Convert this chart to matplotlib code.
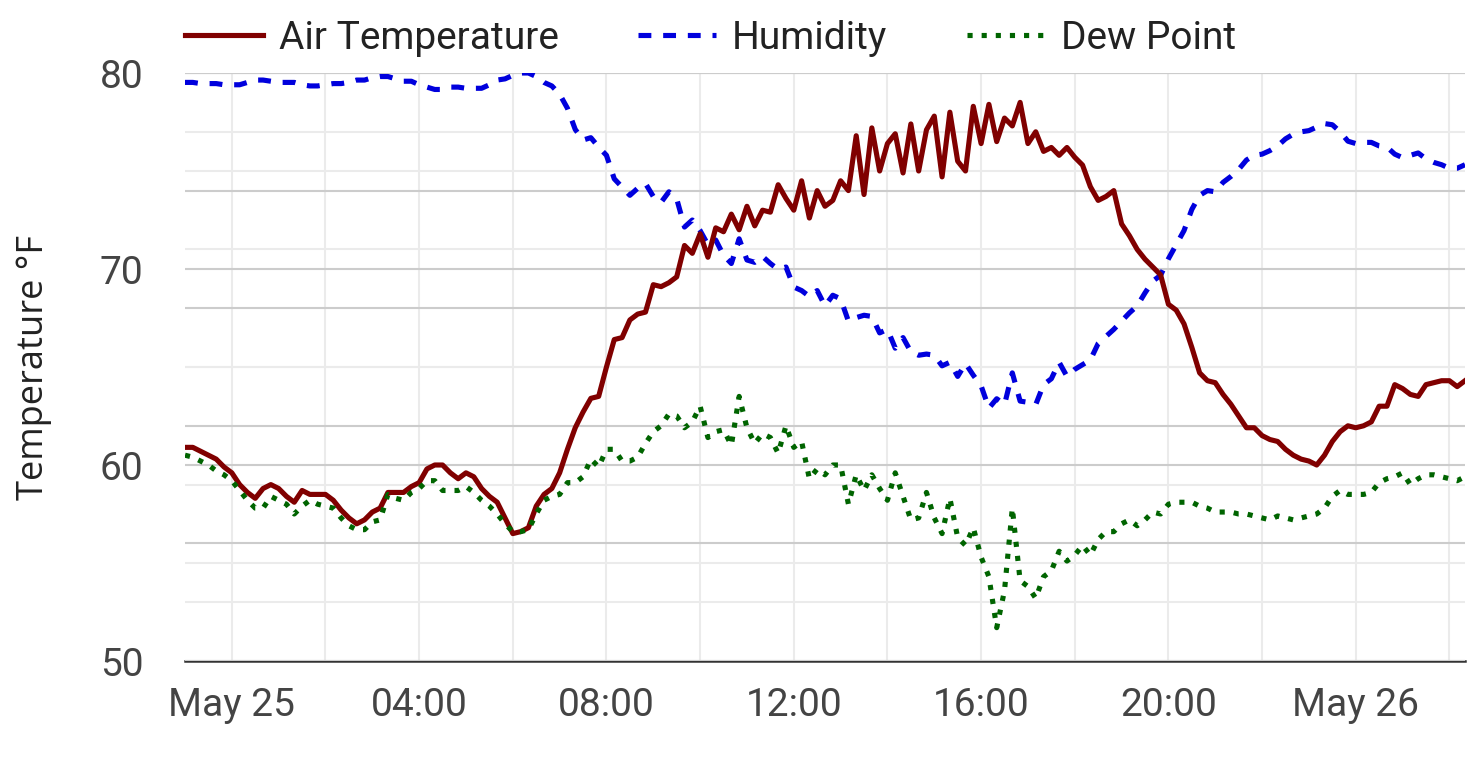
import pandas as pd
import matplotlib
matplotlib.use('Agg')
import matplotlib.pyplot as plt
import matplotlib.dates as mdates
from matplotlib.ticker import MultipleLocator, FuncFormatter

plt.rcParams['font.family'] = ['Roboto', 'DejaVu Sans']

# 10-minute readings, May 24 23:00 -> May 26 02:20
times = pd.date_range('2024-05-24 23:00', periods=165, freq='10min')

air_temp = [
    60.9, 60.9, 60.7, 60.5, 60.3, 59.9, 59.6, 59.0, 58.6, 58.3,
    58.8, 59.0, 58.8, 58.4, 58.1, 58.7, 58.5, 58.5, 58.5, 58.2,
    57.7, 57.3, 57.0, 57.2, 57.6, 57.8, 58.6, 58.6, 58.6, 58.9,
    59.1, 59.8, 60.0, 60.0, 59.6, 59.3, 59.6, 59.4, 58.8, 58.4,
    58.1, 57.3, 56.5, 56.6, 56.8, 57.9, 58.5, 58.8, 59.6, 60.8,
    61.9, 62.7, 63.4, 63.5, 65.0, 66.4, 66.5, 67.4, 67.7, 67.8,
    69.2, 69.1, 69.3, 69.6, 71.2, 70.8, 71.8, 70.6, 72.1, 71.9,
    72.8, 72.0, 73.2, 72.2, 73.0, 72.9, 74.3, 73.6, 73.0, 74.5,
    72.6, 74.0, 73.2, 73.5, 74.5, 74.0, 76.8, 73.8, 77.2, 75.0,
    76.4, 76.9, 74.9, 77.4, 75.0, 77.1, 77.8, 74.7, 78.0, 75.5,
    75.0, 78.3, 76.4, 78.4, 76.5, 77.7, 77.3, 78.5, 76.4, 77.0,
    76.0, 76.2, 75.8, 76.2, 75.7, 75.3, 74.2, 73.5, 73.7, 74.0,
    72.3, 71.7, 71.0, 70.5, 70.1, 69.7, 68.2, 67.9, 67.2, 66.0,
    64.7, 64.3, 64.2, 63.6, 63.1, 62.5, 61.9, 61.9, 61.5, 61.3,
    61.2, 60.8, 60.5, 60.3, 60.2, 60.0, 60.5, 61.2, 61.7, 62.0,
    61.9, 62.0, 62.2, 63.0, 63.0, 64.1, 63.9, 63.6, 63.5, 64.1,
    64.2, 64.3, 64.3, 64.0, 64.3,
]

humidity = [
    89.2, 89.2, 89.1, 89.1, 89.1, 89.0, 89.0, 89.0, 89.2, 89.4,
    89.4, 89.3, 89.2, 89.2, 89.2, 89.0, 88.9, 88.9, 89.0, 89.1,
    89.1, 89.2, 89.4, 89.4, 89.6, 89.7, 89.7, 89.5, 89.3, 89.3,
    89.0, 88.8, 88.6, 88.6, 88.8, 88.8, 88.7, 88.7, 88.7, 89.0,
    89.4, 89.5, 89.8, 90.0, 90.0, 89.7, 89.2, 88.9, 88.2, 87.0,
    85.2, 84.3, 84.5, 83.7, 83.0, 81.0, 80.3, 79.6, 80.2, 80.6,
    79.5, 79.0, 79.9, 79.3, 76.9, 77.5, 76.6, 75.4, 75.8, 74.5,
    73.8, 75.9, 74.1, 73.9, 74.4, 73.8, 73.3, 73.5, 71.8, 71.5,
    71.0, 71.5, 70.2, 71.1, 70.8, 68.9, 69.2, 69.4, 69.3, 67.9,
    68.2, 66.6, 67.5, 66.3, 66.0, 66.1, 66.0, 65.1, 65.4, 64.2,
    65.3, 64.3, 63.4, 61.5, 62.3, 61.8, 64.5, 62.1, 62.0, 61.8,
    63.5, 64.0, 65.4, 64.2, 64.8, 65.2, 65.6, 67.0, 67.6, 68.2,
    68.9, 69.6, 70.2, 71.3, 72.3, 72.8, 74.2, 75.4, 76.6, 78.4,
    79.6, 80.0, 79.9, 80.7, 81.2, 81.8, 82.6, 83.0, 83.1, 83.4,
    83.8, 84.4, 84.8, 85.0, 85.1, 85.4, 85.7, 85.6, 85.0, 84.2,
    84.0, 84.1, 84.1, 83.8, 83.7, 83.1, 82.8, 83.0, 83.2, 82.7,
    82.4, 82.2, 81.9, 81.9, 82.2,
]

dew_point = [
    60.5, 60.4, 60.2, 60.0, 59.7, 59.5, 59.2, 58.7, 58.2, 57.8,
    57.8, 58.4, 58.2, 58.0, 57.5, 57.9, 58.2, 58.0, 57.9, 57.8,
    57.3, 56.9, 56.7, 56.7, 57.1, 57.2, 58.5, 58.3, 58.2, 58.6,
    58.8, 59.2, 59.2, 58.7, 58.7, 58.7, 58.9, 58.6, 58.2, 57.9,
    57.5, 57.0, 56.6, 56.6, 56.7, 57.5, 58.2, 58.4, 58.5, 59.1,
    59.1, 59.4, 60.3, 59.9, 60.8, 60.8, 60.2, 60.2, 60.4, 61.1,
    61.7, 62.0, 62.6, 62.5, 61.9, 62.2, 63.0, 61.4, 61.7, 61.8,
    61.0, 63.5, 61.9, 61.1, 61.6, 61.4, 60.6, 62.0, 60.9, 61.2,
    59.3, 59.8, 59.5, 60.0, 60.0, 58.0, 59.5, 58.7, 59.5, 58.8,
    58.2, 59.6, 58.4, 57.2, 57.3, 58.6, 57.3, 56.5, 58.3, 56.3,
    55.9, 56.8, 55.3, 54.3, 51.7, 53.6, 57.8, 54.1, 53.8, 53.2,
    54.3, 54.6, 55.6, 55.1, 55.4, 55.9, 55.4, 56.2, 56.6, 56.6,
    57.0, 57.2, 56.9, 57.2, 57.6, 57.5, 58.0, 58.1, 58.1, 58.1,
    57.9, 57.8, 57.6, 57.6, 57.6, 57.5, 57.5, 57.4, 57.3, 57.2,
    57.4, 57.3, 57.2, 57.3, 57.4, 57.5, 57.8, 58.4, 58.7, 58.5,
    58.5, 58.5, 58.6, 59.1, 59.3, 59.4, 59.6, 59.0, 59.3, 59.5,
    59.5, 59.4, 59.3, 59.2, 59.4,
]

major_grid = '#cccccc'
minor_grid = '#ebebeb'
lw = 3.7

fig = plt.figure(figsize=(14.7, 7.66), dpi=100, facecolor='white')
ax = fig.add_axes([185 / 1470, 1 - 661 / 766, 1280 / 1470, 588 / 766])

# bottom layer: temperature scale, x grid
ax.set_ylim(50, 80)
ax.yaxis.set_major_locator(MultipleLocator(10))
ax.yaxis.set_minor_locator(MultipleLocator(5))
ax.xaxis.set_major_locator(mdates.HourLocator(byhour=range(0, 24, 4)))
ax.xaxis.set_minor_locator(mdates.HourLocator(byhour=range(0, 24, 2)))


def fmt_time(x, pos):
    d = mdates.num2date(x)
    return d.strftime('%b %d') if d.hour == 0 else d.strftime('%H:%M')


ax.xaxis.set_major_formatter(FuncFormatter(fmt_time))
ax.grid(axis='y', which='major', color=major_grid, lw=1.5)
ax.grid(axis='y', which='minor', color=minor_grid, lw=1.5)
ax.grid(axis='x', which='both', color=minor_grid, lw=1.5)
ax.tick_params(which='both', length=0)
ax.tick_params(axis='y', labelsize=28, labelcolor='#444444', pad=30)
ax.tick_params(axis='x', labelsize=28, labelcolor='#444444', pad=19)
for s in ['top', 'right', 'left']:
    ax.spines[s].set_visible(False)
ax.spines['bottom'].set_color('#333333')
ax.spines['bottom'].set_linewidth(1.8)
ax.set_ylabel('Temperature °F', fontsize=26, color='#222222',
              family=['Open Sans', 'DejaVu Sans'])
ax.yaxis.set_label_coords(-0.104, 0.5)

# middle layer: humidity scale
axh = ax.twinx()
axh.set_ylim(40, 90)
axh.yaxis.set_major_locator(MultipleLocator(10))
axh.yaxis.set_minor_locator(MultipleLocator(5))
axh.grid(axis='y', which='major', color=major_grid, lw=1.5)
axh.grid(axis='y', which='minor', color=minor_grid, lw=1.5)
axh.tick_params(which='both', length=0, labelright=False)
for s in axh.spines.values():
    s.set_visible(False)
l_hum, = axh.plot(times, humidity, color='#0000dd', lw=lw, ls=(0, (2.5, 2.3)),
                  label='Humidity')

# top layer: temperature lines
axt = ax.twinx()
axt.set_ylim(50, 80)
axt.tick_params(which='both', length=0, labelright=False)
for s in axt.spines.values():
    s.set_visible(False)
l_air, = axt.plot(times, air_temp, color='#800000', lw=lw, label='Air Temperature')
l_dew, = axt.plot(times, dew_point, color='#006400', lw=lw, ls=(0, (1.0, 1.75)),
                  label='Dew Point')

ax.set_xlim(times[0], times[-1])

axt.legend(handles=[l_air, l_hum, l_dew], loc='lower left', bbox_to_anchor=(0, 1.028),
           ncol=3, frameon=False, borderaxespad=0, borderpad=0, fontsize=28,
           handlelength=2.0, handletextpad=0.41, columnspacing=2.05,
           labelcolor='#222222')

fig.savefig('out.png', dpi=100, facecolor='white')
